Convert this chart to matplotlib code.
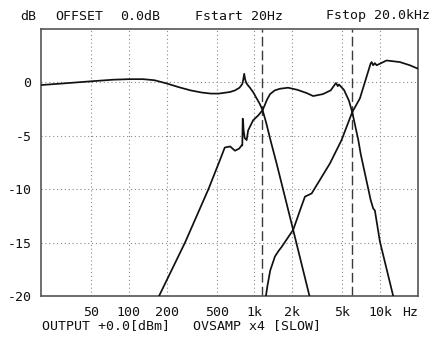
import matplotlib

matplotlib.use("Agg")
import matplotlib.pyplot as plt
from matplotlib.ticker import FixedLocator, NullLocator

# Measured response, three drivers (frequency in Hz, level in dB)
woofer_f = [20, 30, 50, 75, 100, 130, 160, 200, 250, 310, 380, 450, 520, 640,
            700, 760, 800, 815, 828, 842, 860, 890, 920, 980, 1040, 1100, 1160,
            1240, 1340, 1500, 1720, 2030, 2725, 3000]
woofer_db = [-0.25, -0.1, 0.1, 0.25, 0.3, 0.3, 0.2, -0.1, -0.45, -0.75, -0.95,
             -1.05, -1.05, -0.9, -0.75, -0.5, -0.15, 0.3, 0.8, 0.3, -0.05,
             -0.3, -0.5, -0.95, -1.5, -2.0, -2.6, -3.8, -5.4, -7.6, -10.4,
             -13.8, -19.9, -22.0]

mid_f = [160, 174, 280, 430, 530, 580, 640, 700, 755, 790, 800, 806, 812,
         818, 835, 866, 890, 975, 1070, 1160, 1210, 1260, 1330, 1450, 1590,
         1850, 2200, 2600, 2930, 3500, 4040, 4300, 4450, 4600, 4700, 5150,
         5640, 6000, 6700, 7000, 8400, 8800, 9080, 9950, 12700, 13500]
mid_db = [-21.5, -20.0, -15.0, -10.0, -7.3, -6.1, -6.0, -6.4, -6.2, -5.9,
          -5.9, -3.4, -3.6, -4.4, -5.2, -5.4, -4.5, -3.55, -3.1, -2.6, -2.1,
          -1.6, -1.1, -0.75, -0.6, -0.5, -0.7, -1.0, -1.28, -1.1, -0.75,
          -0.3, -0.06, -0.35, -0.2, -0.7, -1.7, -2.8, -5.4, -6.7, -11.0,
          -11.8, -12.0, -14.9, -20.0, -21.0]

tweeter_f = [1150, 1233, 1270, 1335, 1455, 1550, 1646, 2033, 2300, 2520,
             2850, 3980, 4930, 5990, 6900, 8390, 8550, 8800, 9080, 9380,
             11250, 14360, 17250, 20000]
tweeter_db = [-22.0, -20.0, -19.0, -17.6, -16.3, -15.8, -15.4, -13.8, -12.0,
              -10.7, -10.4, -7.6, -5.4, -2.8, -1.5, 1.75, 1.9, 1.6, 1.8, 1.6,
              2.05, 1.9, 1.6, 1.28]

crossover_f = [1150, 6000]

x_ticks = [50, 100, 200, 500, 1000, 2000, 5000, 10000]
x_labels = ["50", "100", "200", "500", "1k", "2k", "5k", "10k"]
y_ticks = [0, -5, -10, -15, -20]
y_grid = [0, -5, -10, -15]

INK = "#111111"
FRAME = "#555555"
GRID = "#8a8a8a"
FONT = "DejaVu Sans Mono"
FS = 9.5

fig = plt.figure(figsize=(4.48, 3.38), dpi=100)
ax = fig.add_axes([0.0915, 0.1243, 0.8415, 0.790])

for f, db in ((woofer_f, woofer_db), (mid_f, mid_db), (tweeter_f, tweeter_db)):
    ax.plot(f, db, color=INK, linewidth=1.25, zorder=3)

for f in crossover_f:
    ax.axvline(f, color="#3a3a3a", linewidth=1.0, linestyle=(0, (7, 3)), zorder=2)

for f in x_ticks:
    ax.axvline(f, color=GRID, linewidth=0.8, linestyle=(0, (1, 2.5)), zorder=1)
for y in y_grid:
    ax.axhline(y, color=GRID, linewidth=0.8, linestyle=(0, (1, 2.5)), zorder=1)

ax.set_xscale("log")
ax.set_xlim(20, 20000)
ax.set_ylim(-20, 5)
ax.xaxis.set_major_locator(FixedLocator(x_ticks))
ax.xaxis.set_minor_locator(NullLocator())
ax.set_xticklabels(x_labels)
ax.set_yticks(y_ticks)
ax.set_yticklabels([str(v) for v in y_ticks])
ax.tick_params(length=0, labelsize=FS, colors=INK, pad=7)
for lab in ax.get_xticklabels() + ax.get_yticklabels():
    lab.set_family(FONT)

for spine in ax.spines.values():
    spine.set_color(FRAME)
    spine.set_linewidth(1.2)

# unit label at the right end of the frequency axis, level with tick labels
ax.text(0.978, -0.036, "Hz", transform=ax.transAxes, ha="center", va="top",
        fontsize=FS, family=FONT, color=INK)

top = 1 - 16 / 338
header = [(20, "dB"), (55, "OFFSET"), (120, "0.0dB"), (195, "Fstart 20Hz"),
          (326, "Fstop 20.0kHz")]
for x, s in header:
    fig.text(x / 448, top, s, fontsize=FS, family=FONT, color=INK, va="center")

bot = 1 - 326 / 338
footer = [(42, "OUTPUT +0.0[dBm]"), (193, "OVSAMP x4 [SLOW]")]
for x, s in footer:
    fig.text(x / 448, bot, s, fontsize=FS, family=FONT, color=INK, va="center")

fig.savefig("out.png", dpi=100)
